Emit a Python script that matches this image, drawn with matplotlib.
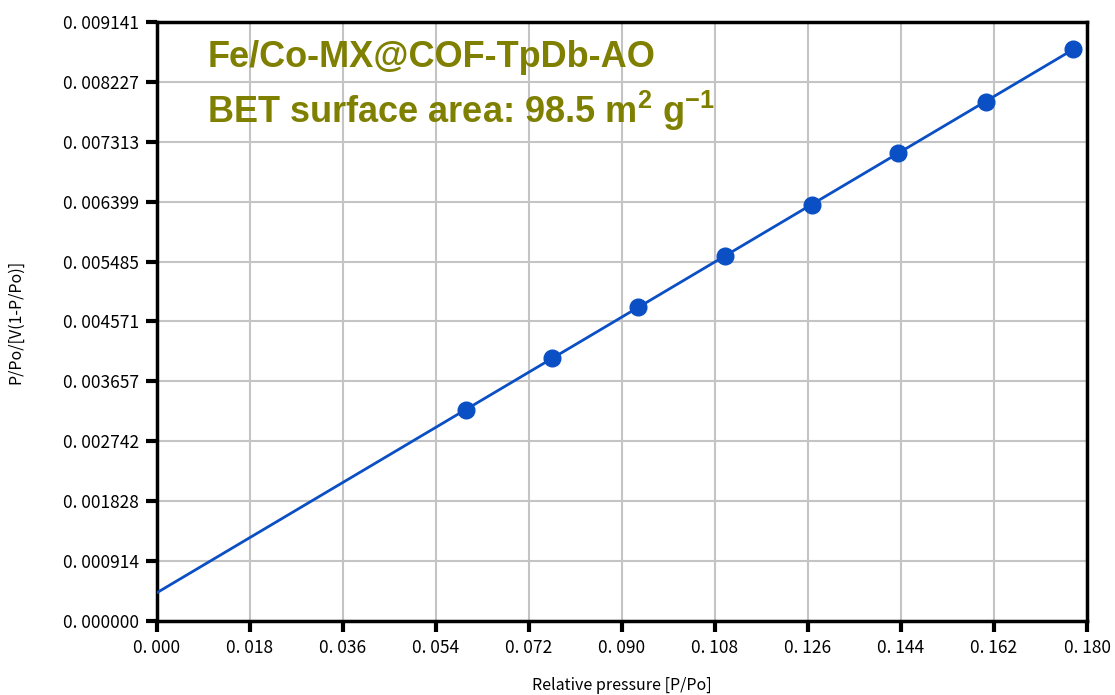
import matplotlib
matplotlib.use("Agg")
import matplotlib.pyplot as plt
import numpy as np

plt.rcParams['font.family'] = ['Noto Sans CJK SC', 'DejaVu Sans']
plt.rcParams['mathtext.fontset'] = 'custom'
plt.rcParams['mathtext.rm'] = 'Liberation Sans'
plt.rcParams['mathtext.bf'] = 'Liberation Sans:bold'

# data
pp = [0.0598, 0.0764, 0.0931, 0.1099, 0.1268, 0.1434, 0.1604, 0.1773]
bet_y = [0.003220, 0.004013, 0.004792, 0.005570, 0.006348, 0.007142, 0.007920, 0.008729]
xticks = [0.000, 0.018, 0.036, 0.054, 0.072, 0.090, 0.108, 0.126, 0.144, 0.162, 0.180]
yticks = [0.000000, 0.000914, 0.001828, 0.002742, 0.003657, 0.004571,
          0.005485, 0.006399, 0.007313, 0.008227, 0.009141]

fig = plt.figure(figsize=(11.15, 6.95), dpi=100)
ax = fig.add_axes([157/1115, 1-621/695, (1087-157)/1115, (621-22)/695])

# fitted line from x=0 to last point
k, b = np.polyfit(pp, bet_y, 1)
xl = np.array([0, pp[-1]])
ax.plot(xl, k*xl + b, color='#0a4fc4', lw=2, zorder=3)
ax.plot(pp, bet_y, 'o', color='#0a4fc4', ms=12, zorder=4)

ax.set_xlim(0, 0.180)
ax.set_ylim(0, 0.009141)
ax.set_xticks(xticks)
ax.set_xticklabels(["0. %03d" % round(v*1000) for v in xticks])
ax.set_yticks(yticks)
ax.set_yticklabels(["0. %06d" % round(v*1e6) for v in yticks])
ax.grid(True, color='#c4c4c4', lw=1.5)
ax.set_axisbelow(True)
for s in ax.spines.values():
    s.set_linewidth(2.5)
ax.tick_params(direction='out', length=8, width=3, labelsize=12.5, pad=5)

ax.set_xlabel("Relative pressure [P/Po]", fontsize=11.5, labelpad=14)
ax.set_ylabel("P/Po/[V(1-P/Po)]", fontsize=11.5, labelpad=28)

ax.text(0.054, 0.94, "Fe/Co-MX@COF-TpDb-AO", transform=ax.transAxes,
        fontsize=26, fontweight='bold', color='#7f7f00',
        family='Liberation Sans', va='center')
ax.text(0.054, 0.852, r"BET surface area: 98.5 m$^{\mathbf{2}}$ g$^{\mathbf{-1}}$",
        transform=ax.transAxes, fontsize=26, fontweight='bold', color='#7f7f00',
        family='Liberation Sans', va='center')

fig.savefig("out.png", dpi=100)
